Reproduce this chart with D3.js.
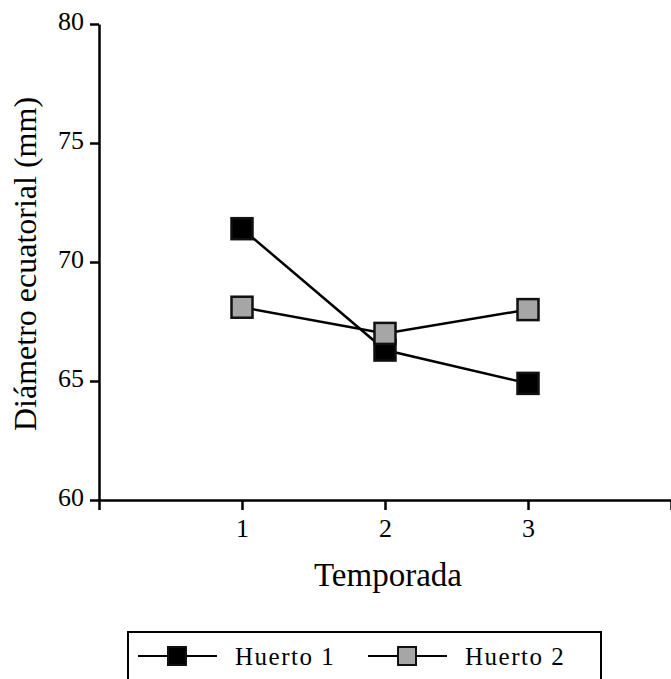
<!DOCTYPE html>
<html>
<head>
<meta charset="utf-8">
<script src="https://cdn.jsdelivr.net/npm/d3@7"></script>
<style>
  body { margin: 0; background: #fff; }
  text { font-family: "Liberation Serif", "Times New Roman", serif; fill: #000; }
</style>
</head>
<body>
<div id="chart"></div>
<script>
// data
const seasons = [1, 2, 3]
const huerto1 = [71.4, 66.3, 64.9]
const huerto2 = [68.1, 67.0, 68.0]
const yTicks = [60, 65, 70, 75, 80]
const xTicks = [0, 1, 2, 3, 4]
const xTickLabels = ["", "1", "2", "3", ""]
const seriesNames = ["Huerto 1", "Huerto 2"]
const seriesFill = ["#000000", "#a6a6a6"]

const width = 671, height = 679
const svg = d3.select("#chart").append("svg")
    .attr("width", width)
    .attr("height", height)

// scales
const xScale = d3.scaleLinear().domain([0, 4]).range([99, 671])
const yScale = d3.scaleLinear().domain([60, 80]).range([500, 24])

// axes
const xAxis = d3.axisBottom(xScale)
    .tickValues(xTicks)
    .tickFormat((d, i) => xTickLabels[i])
    .tickSize(10)
    .tickSizeOuter(0)
    .tickPadding(9)
const yAxis = d3.axisLeft(yScale)
    .tickValues(yTicks)
    .tickSize(9)
    .tickSizeOuter(0)
    .tickPadding(6)

const gx = svg.append("g")
    .attr("transform", "translate(0," + yScale(60) + ")")
    .call(xAxis)
const gy = svg.append("g")
    .attr("transform", "translate(" + xScale(0) + ",0)")
    .call(yAxis)

svg.selectAll(".domain, .tick line")
    .attr("stroke", "#000")
    .attr("stroke-width", 2.5)
svg.selectAll(".tick text")
    .style("font-size", "26px")
    .attr("fill", "#000")
gy.selectAll(".tick text").attr("dy", "0.23em")

// axis titles
svg.append("text")
    .attr("x", 388)
    .attr("y", 586)
    .attr("text-anchor", "middle")
    .attr("font-size", 33)
    .text("Temporada")

svg.append("text")
    .attr("transform", "translate(36,264) rotate(-90)")
    .attr("text-anchor", "middle")
    .attr("font-size", 32)
    .text("Diámetro ecuatorial (mm)")

// lines
const series = [huerto1, huerto2]
const line = d3.line()
    .x((d, i) => xScale(seasons[i]))
    .y(d => yScale(d))

svg.selectAll(".series-line")
    .data(series)
    .enter()
    .append("path")
    .attr("class", "series-line")
    .attr("d", line)
    .attr("fill", "none")
    .attr("stroke", "#000")
    .attr("stroke-width", 2.5)

// markers
const size = 21
series.forEach((vals, k) => {
    svg.selectAll(".marker-" + k)
        .data(vals)
        .enter()
        .append("rect")
        .attr("class", "marker-" + k)
        .attr("x", (d, i) => xScale(seasons[i]) - size / 2)
        .attr("y", d => yScale(d) - size / 2)
        .attr("width", size)
        .attr("height", size)
        .attr("fill", seriesFill[k])
        .attr("stroke", "#111")
        .attr("stroke-width", 2.5)
})

// legend
const legend = svg.append("g")
legend.append("rect")
    .attr("x", 128)
    .attr("y", 632)
    .attr("width", 473)
    .attr("height", 80)
    .attr("fill", "none")
    .attr("stroke", "#000")
    .attr("stroke-width", 2)

const legendX = [138, 368]
seriesNames.forEach((name, k) => {
    const x0 = legendX[k], cy = 656
    legend.append("line")
        .attr("x1", x0).attr("x2", x0 + 79)
        .attr("y1", cy).attr("y2", cy)
        .attr("stroke", "#000")
        .attr("stroke-width", 2)
    legend.append("rect")
        .attr("x", x0 + 30).attr("y", cy - 9)
        .attr("width", 18).attr("height", 18)
        .attr("fill", seriesFill[k])
        .attr("stroke", "#111")
        .attr("stroke-width", 2)
    legend.append("text")
        .attr("x", x0 + 97)
        .attr("y", cy + 9)
        .style("font-size", "25px")
        .attr("letter-spacing", 1.5)
        .text(name)
})
</script>
</body>
</html>
